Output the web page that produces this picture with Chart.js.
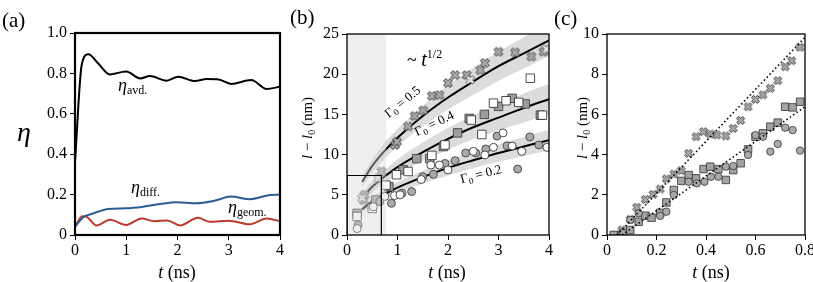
<!DOCTYPE html>
<html>
<head>
<meta charset="utf-8">
<script src="https://cdn.jsdelivr.net/npm/chart.js@4.4.1/dist/chart.umd.min.js"></script>
<style>
  html, body { margin: 0; padding: 0; background: #fff; }
  #wrap { position: relative; width: 813px; height: 282px; }
  canvas { position: absolute; left: 0; top: 0; }
</style>
</head>
<body>
<div id="wrap">
  <canvas id="ca" width="813" height="282"></canvas>
  <canvas id="cb" width="813" height="282"></canvas>
  <canvas id="cc" width="813" height="282"></canvas>
</div>
<script>
// ---- (a) efficiencies vs time
const tAvd   = [0, 0.13, 0.26, 0.45, 0.68, 1.0, 1.27, 1.46, 1.79, 2.01, 2.34, 2.57, 2.8, 3.05, 3.44, 3.74, 4.0];
const etaAvd = [0.36, 0.84, 0.895, 0.85, 0.795, 0.81, 0.775, 0.787, 0.764, 0.784, 0.762, 0.772, 0.77, 0.748, 0.767, 0.723, 0.734];
const tDiff   = [0, 0.16, 0.36, 0.65, 1.0, 1.33, 1.66, 1.98, 2.37, 2.7, 3.05, 3.41, 3.8, 4.0];
const etaDiff = [0.04, 0.088, 0.107, 0.129, 0.132, 0.14, 0.153, 0.162, 0.157, 0.168, 0.19, 0.177, 0.198, 0.2];
const tGeom   = [0, 0.14, 0.23, 0.42, 0.68, 1.0, 1.3, 1.55, 1.8, 2.05, 2.4, 2.63, 3.0, 3.41, 3.74, 4.0];
const etaGeom = [0.04, 0.093, 0.09, 0.047, 0.075, 0.05, 0.082, 0.068, 0.072, 0.047, 0.085, 0.065, 0.071, 0.053, 0.082, 0.068];

// ---- (b) elongation, long times
const tFit   = [0.3, 0.5, 0.75, 1, 1.5, 2, 2.5, 3, 3.5, 4];
const fit05   = [6.6, 8.6, 10.5, 12.1, 14.8, 17.1, 19.1, 21.0, 22.6, 24.2];
const fit05Hi = [7.4, 9.4, 11.5, 13.2, 16.1, 18.6, 20.8, 22.8, 24.6, 26.2];
const fit05Lo = [5.9, 7.7, 9.5, 11.0, 13.5, 15.6, 17.4, 19.2, 20.7, 22.3];
const fit04   = [4.6, 6.0, 7.3, 8.45, 10.3, 11.95, 13.4, 14.6, 15.8, 16.9];
const fit04Hi = [5.2, 6.7, 8.1, 9.4, 11.5, 13.3, 14.9, 16.3, 17.6, 18.8];
const fit04Lo = [4.0, 5.3, 6.5, 7.5, 9.2, 10.6, 11.9, 13.0, 14.0, 15.0];
const fit02   = [3.2, 4.2, 5.1, 5.9, 7.2, 8.35, 9.3, 10.2, 11.0, 11.8];
const fit02Hi = [3.6, 4.7, 5.7, 6.6, 8.0, 9.3, 10.3, 11.3, 12.2, 13.1];
const fit02Lo = [2.8, 3.7, 4.5, 5.2, 6.4, 7.4, 8.3, 9.1, 9.8, 10.5];

const crossB = [[0.33,4.3],[0.35,5.0],[0.68,7.9],[0.95,11.2],[0.99,11.6],[1.21,13.5],[1.34,14.8],[1.51,15.5],[1.68,17.3],[1.83,17.4],[2.0,18.9],[2.14,19.9],[2.37,19.9],[2.64,20.5],[2.73,21.4],[3.0,22.8],[3.33,22.7],[3.65,22.2],[3.89,22.8]];
const crossLightB = [[0.3,4.6],[0.62,7.05],[2.44,19.3],[3.95,23.1]];
const sqGrayB = [[0.2,2.7],[0.57,4.35],[0.83,6.0],[1.11,8.1],[1.38,9.5],[1.64,9.5],[1.91,11.0],[2.19,12.7],[2.42,14.5],[2.72,15.0],[3.0,16.0],[3.27,17.0],[3.53,16.3],[3.83,14.9]];
const sqWhiteB = [[0.2,2.3],[0.5,3.3],[0.77,6.2],[0.98,7.5],[1.21,7.9],[1.68,9.9],[1.94,11.2],[2.46,14.3],[2.67,12.5],[2.9,16.4],[3.15,16.7],[3.4,16.5],[3.63,19.5],[3.87,14.9]];
const circGrayB = [[0.22,1.24],[0.65,4.15],[0.88,3.94],[1.09,5.2],[1.28,5.4],[1.5,7.25],[1.71,7.55],[1.94,8.9],[2.14,9.25],[2.35,10.2],[2.55,10.2],[2.75,10.7],[2.97,12.3],[3.17,11.1],[3.38,8.2],[3.62,12.2],[3.8,11.2]];
const circWhiteB = [[0.2,0.8],[0.52,3.5],[0.75,4.8],[0.94,4.9],[1.05,5.0],[1.47,6.9],[1.66,8.7],[1.83,8.7],[2.0,8.1],[2.5,10.4],[2.73,9.95],[2.9,10.9],[3.09,12.7],[3.27,11.07],[3.46,10.4],[3.96,10.9]];
const shadeT = [0, 0.78];
const shadeV = [25, 25];
const boxT = [0, 0, 0.68, 0.68];
const boxV = [0, 7.4, 7.4, 0];

// ---- (c) elongation, short times
const crossC = [[0.034,0],[0.06,0.25],[0.094,0.78],[0.12,1.38],[0.155,1.77],[0.186,2.02],[0.215,2.29],[0.24,2.79],[0.27,3.03],[0.30,3.2],[0.33,4.06],[0.36,4.89],[0.39,5.14],[0.417,5.02],[0.444,4.98],[0.48,4.93],[0.51,5.3],[0.54,5.7],[0.57,6.38],[0.6,6.75],[0.63,6.97],[0.66,7.3],[0.69,7.68],[0.72,8.37],[0.746,8.67],[0.78,9.34]];
const sqC = [[0.027,0],[0.065,0.08],[0.094,0.25],[0.128,0.66],[0.155,0.96],[0.18,0.86],[0.215,1.1],[0.24,1.62],[0.27,2.24],[0.30,2.69],[0.33,2.98],[0.36,2.82],[0.39,3.28],[0.417,3.4],[0.45,3.28],[0.48,2.74],[0.51,3.23],[0.54,3.57],[0.57,4.26],[0.6,4.89],[0.63,5.06],[0.66,5.39],[0.69,5.59],[0.72,6.38],[0.75,6.35],[0.78,6.63]];
const circC = [[0.094,0.75],[0.128,1.08],[0.215,0.95],[0.24,1.16],[0.27,1.99],[0.33,2.65],[0.363,2.57],[0.394,2.65],[0.42,2.9],[0.45,2.9],[0.48,3.4],[0.51,3.43],[0.57,3.98],[0.6,4.97],[0.63,4.89],[0.66,4.15],[0.69,4.53],[0.72,5.34],[0.75,5.22],[0.78,4.2]];
const fastT = [0.04, 0.8];
const fastV = [0, 9.83];
const slowT = [0.06, 0.8];
const slowV = [0, 6.38];

const F = 'Liberation Serif';
const pts = (xs, ys) => xs.map((x, i) => ({ x, y: ys[i] }));
const pairs = a => a.map(p => ({ x: p[0], y: p[1] }));

function crossImg(L, fill, edge) {
  const n = Math.ceil(L * 2 + 4);
  const c = document.createElement('canvas');
  c.width = c.height = n;
  const g = c.getContext('2d');
  const w = L * 0.36;
  g.translate(n / 2, n / 2);
  g.rotate(Math.PI / 4);
  g.beginPath();
  [[-w,-L],[w,-L],[w,-w],[L,-w],[L,w],[w,w],[w,L],[-w,L],[-w,w],[-L,w],[-L,-w],[-w,-w]]
    .forEach((p, i) => i ? g.lineTo(p[0], p[1]) : g.moveTo(p[0], p[1]));
  g.closePath();
  g.fillStyle = fill; g.fill();
  g.lineWidth = 0.9; g.strokeStyle = edge; g.stroke();
  return c;
}

function rich(ctx, x, y, parts, align) {
  let w = 0;
  parts.forEach(p => { ctx.font = p[1]; w += ctx.measureText(p[0]).width; });
  let cx = align === 'center' ? x - w / 2 : x;
  parts.forEach(p => {
    ctx.font = p[1];
    ctx.fillText(p[0], cx, y + (p[2] || 0));
    cx += ctx.measureText(p[0]).width;
  });
}
function richRot(ctx, x, y, ang, parts) {
  ctx.save(); ctx.translate(x, y); ctx.rotate(ang);
  rich(ctx, 0, 0, parts, 'center');
  ctx.restore();
}

function axis(min, max, step, fmt, fitSize, isX) {
  return {
    type: 'linear', min, max,
    ticks: { stepSize: step, autoSkip: false, maxRotation: 0, padding: isX ? 1 : 3, color: '#000',
             font: { family: F, size: 16 }, callback: fmt },
    grid: { drawOnChartArea: false, drawTicks: true, tickLength: 5, color: '#000', lineWidth: 1 },
    border: { display: false },
    afterFit(s) {
      if (isX) s.height = fitSize; else s.width = fitSize;
      s.paddingLeft = s.paddingRight = s.paddingTop = s.paddingBottom = 0;
    }
  };
}
const fmtDec = v => (Math.abs(v) < 1e-9 ? '0' : v.toFixed(1));
const fmtInt = v => String(Math.round(v));

function frame(chart, lw) {
  const { ctx, chartArea: a } = chart;
  ctx.save();
  ctx.lineWidth = lw; ctx.strokeStyle = '#000';
  ctx.strokeRect(a.left, a.top, a.right - a.left, a.bottom - a.top);
  ctx.restore();
}
const it = s => `italic ${s}px ${F}`;
const rm = s => `${s}px ${F}`;

const base = {
  type: 'line',
  options: {
    responsive: false, animation: false, devicePixelRatio: 1, events: [],
    plugins: { legend: { display: false }, tooltip: { enabled: false } }
  }
};

// ---------------- (a)
const lineA = (xs, ys, col) => ({ data: pts(xs, ys), borderColor: col, borderWidth: 2, pointRadius: 0,
                                  cubicInterpolationMode: 'monotone', fill: false });
new Chart(document.getElementById('ca'), {
  type: 'line',
  data: { datasets: [lineA(tAvd, etaAvd, '#000000'), lineA(tDiff, etaDiff, '#2b5c96'), lineA(tGeom, etaGeom, '#bd3a2b')] },
  options: {
    ...base.options,
    layout: { padding: { left: 0, right: 533, top: 33, bottom: 0 } },
    scales: { x: axis(0, 4, 1, fmtInt, 47, true), y: axis(0, 1, 0.2, fmtDec, 75, false) }
  },
  plugins: [{
    id: 'decoA',
    afterDraw(chart) {
      frame(chart, 2.2);
      const ctx = chart.ctx;
      ctx.save(); ctx.fillStyle = '#000'; ctx.textBaseline = 'alphabetic';
      rich(ctx, 2, 27, [['(a)', rm(21)]]);
      rich(ctx, 17, 141, [['η', it(28)]]);
      rich(ctx, 177, 278, [['t', it(18)], [' (ns)', rm(18)]], 'center');
      rich(ctx, 118, 91, [['η', it(18)], ['avd.', rm(12), 3]]);
      rich(ctx, 131, 193, [['η', it(18)], ['diff.', rm(12), 3]]);
      rich(ctx, 228, 213, [['η', it(18)], ['geom.', rm(12), 3]]);
      ctx.restore();
    }
  }]
});

// ---------------- (b)
const crossGray = crossImg(4.6, '#a6a6a6', '#3a3a3a');
const crossLight = crossImg(4.6, '#e2e2e2', '#555555');
const band = (hi, lo, ord) => ([
  { data: pts(tFit, hi), borderWidth: 0, pointRadius: 0, cubicInterpolationMode: 'monotone',
    fill: '+1', backgroundColor: '#dcdcdc', order: ord },
  { data: pts(tFit, lo), borderWidth: 0, pointRadius: 0, cubicInterpolationMode: 'monotone',
    fill: false, order: ord }
]);
const fitLine = ys => ({ data: pts(tFit, ys), borderColor: '#000', borderWidth: 2, pointRadius: 0,
                         cubicInterpolationMode: 'monotone', fill: false, order: 20 });
const marks = (arr, style, r, fill, edge) => ({ data: pairs(arr), showLine: false, pointStyle: style,
  pointRadius: r, pointBackgroundColor: fill, pointBorderColor: edge, pointBorderWidth: 0.8, order: 10 });

new Chart(document.getElementById('cb'), {
  type: 'line',
  data: { datasets: [
    ...band(fit05Hi, fit05Lo, 30), ...band(fit04Hi, fit04Lo, 30), ...band(fit02Hi, fit02Lo, 30),
    fitLine(fit05), fitLine(fit04), fitLine(fit02),
    marks(circWhiteB, 'circle', 4, '#ffffff', '#222'),
    marks(circGrayB, 'circle', 4, '#a9a9a9', '#333'),
    marks(sqWhiteB, 'rect', 6, '#ffffff', '#222'),
    marks(sqGrayB, 'rect', 6, '#9d9d9d', '#333'),
    marks(crossLightB, crossLight, 4, '#ddd', '#555'),
    marks(crossB, crossGray, 4, '#9e9e9e', '#333'),
    { data: pts(shadeT, shadeV), borderWidth: 0, pointRadius: 0, fill: 'origin',
      backgroundColor: 'rgba(218,218,218,0.42)', order: 5 },
    { data: pts(boxT, boxV), borderColor: '#000', borderWidth: 1.2, pointRadius: 0, fill: false, order: 4 }
  ] },
  options: {
    ...base.options,
    layout: { padding: { left: 290, right: 264, top: 34, bottom: 0 } },
    scales: { x: axis(0, 4, 1, fmtInt, 47, true), y: axis(0, 25, 5, fmtInt, 57, false) }
  },
  plugins: [{
    id: 'decoB',
    afterDraw(chart) {
      frame(chart, 1.3);
      const ctx = chart.ctx;
      ctx.save(); ctx.fillStyle = '#000'; ctx.textBaseline = 'alphabetic';
      rich(ctx, 290, 24, [['(b)', rm(21)]]);
      rich(ctx, 447, 278, [['t', it(18)], [' (ns)', rm(18)]], 'center');
      richRot(ctx, 312, 128, -Math.PI / 2, [['l', it(15)], [' − ', rm(15)], ['l', it(15)], ['0', rm(10), 3], [' (nm)', rm(15)]]);
      rich(ctx, 407, 66, [['~ ', rm(18)], ['t', it(20)], ['1/2', rm(12), -8]]);
      const g = v => [['Γ', rm(13)], ['0', rm(9), 3], [' = ' + v, rm(13)]];
      richRot(ctx, 405, 105, -0.68, g('0.5'));
      richRot(ctx, 436, 127, -0.45, g('0.4'));
      richRot(ctx, 482, 178, -0.25, g('0.2'));
      ctx.restore();
    }
  }]
});

// ---------------- (c)
const crossGrayC = crossImg(4.2, '#a6a6a6', '#3a3a3a');
const dotted = (xs, ys) => ({ data: pts(xs, ys), borderColor: '#000', borderWidth: 1.6, borderDash: [1.5, 2.6],
                              pointRadius: 0, fill: false, order: 5 });
new Chart(document.getElementById('cc'), {
  type: 'line',
  data: { datasets: [
    marks(circC, 'circle', 3.7, '#a9a9a9', '#333'),
    marks(sqC, 'rect', 5.3, '#a3a3a3', '#333'),
    marks(crossC, crossGrayC, 4, '#9e9e9e', '#333'),
    dotted(fastT, fastV), dotted(slowT, slowV)
  ] },
  options: {
    ...base.options,
    layout: { padding: { left: 560, right: 8, top: 34, bottom: 0 } },
    scales: { x: axis(0, 0.8, 0.2, fmtDec, 47, true), y: axis(0, 10, 2, fmtInt, 47, false) }
  },
  plugins: [{
    id: 'decoC',
    afterDraw(chart) {
      frame(chart, 1.3);
      const ctx = chart.ctx;
      ctx.save(); ctx.fillStyle = '#000'; ctx.textBaseline = 'alphabetic';
      rich(ctx, 554, 25, [['(c)', rm(21)]]);
      rich(ctx, 711, 278, [['t', it(18)], [' (ns)', rm(18)]], 'center');
      richRot(ctx, 587, 128, -Math.PI / 2, [['l', it(15)], [' − ', rm(15)], ['l', it(15)], ['0', rm(10), 3], [' (nm)', rm(15)]]);
      ctx.restore();
    }
  }]
});
</script>
</body>
</html>
